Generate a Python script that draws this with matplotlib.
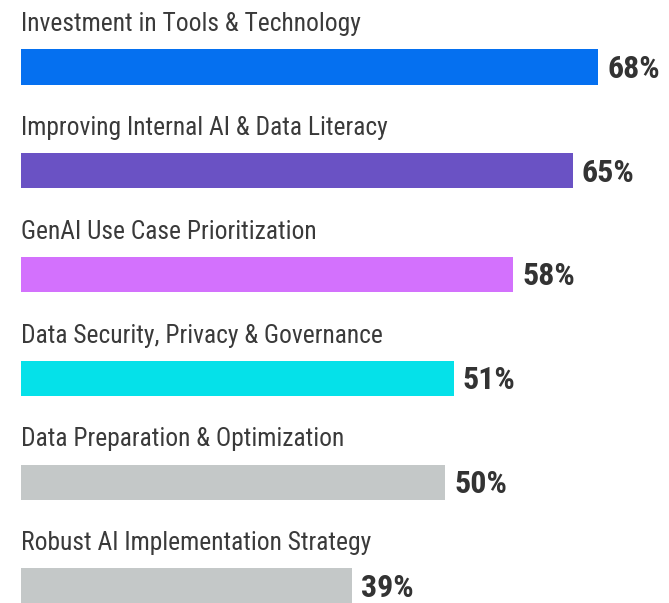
import matplotlib
matplotlib.use('Agg')
import matplotlib.pyplot as plt

categories = [
    "Investment in Tools & Technology",
    "Improving Internal AI & Data Literacy",
    "GenAI Use Case Prioritization",
    "Data Security, Privacy & Governance",
    "Data Preparation & Optimization",
    "Robust AI Implementation Strategy",
]
values = [68, 65, 58, 51, 50, 39]
colors = ["#0570f0", "#6a52c4", "#d371fd", "#05e1e9", "#c4c8c8", "#c4c8c8"]

FAMILY = ["Roboto Condensed", "Roboto", "DejaVu Sans"]

fig = plt.figure(figsize=(6.69, 6.03), dpi=100)
ax = fig.add_axes([0, 0, 1, 1])

ypos = list(range(len(values)))
ax.barh(ypos, values, height=0.34, color=colors)

for y, v, label in zip(ypos, values, categories):
    ax.text(0, y - 0.345, label, fontsize=18.4, color="#3a3a3a",
            family=FAMILY, va="baseline", ha="left")
    ax.text(v + 1.05, y + 0.105, f"{v}%", fontsize=23, fontweight="bold",
            color="#333333", family=FAMILY, va="baseline", ha="left")

ax.set_xlim(-21 / 8.49, 648 / 8.49)
ax.set_ylim(5.164, -0.645)
ax.set_axis_off()

fig.savefig("out.png", dpi=100)
